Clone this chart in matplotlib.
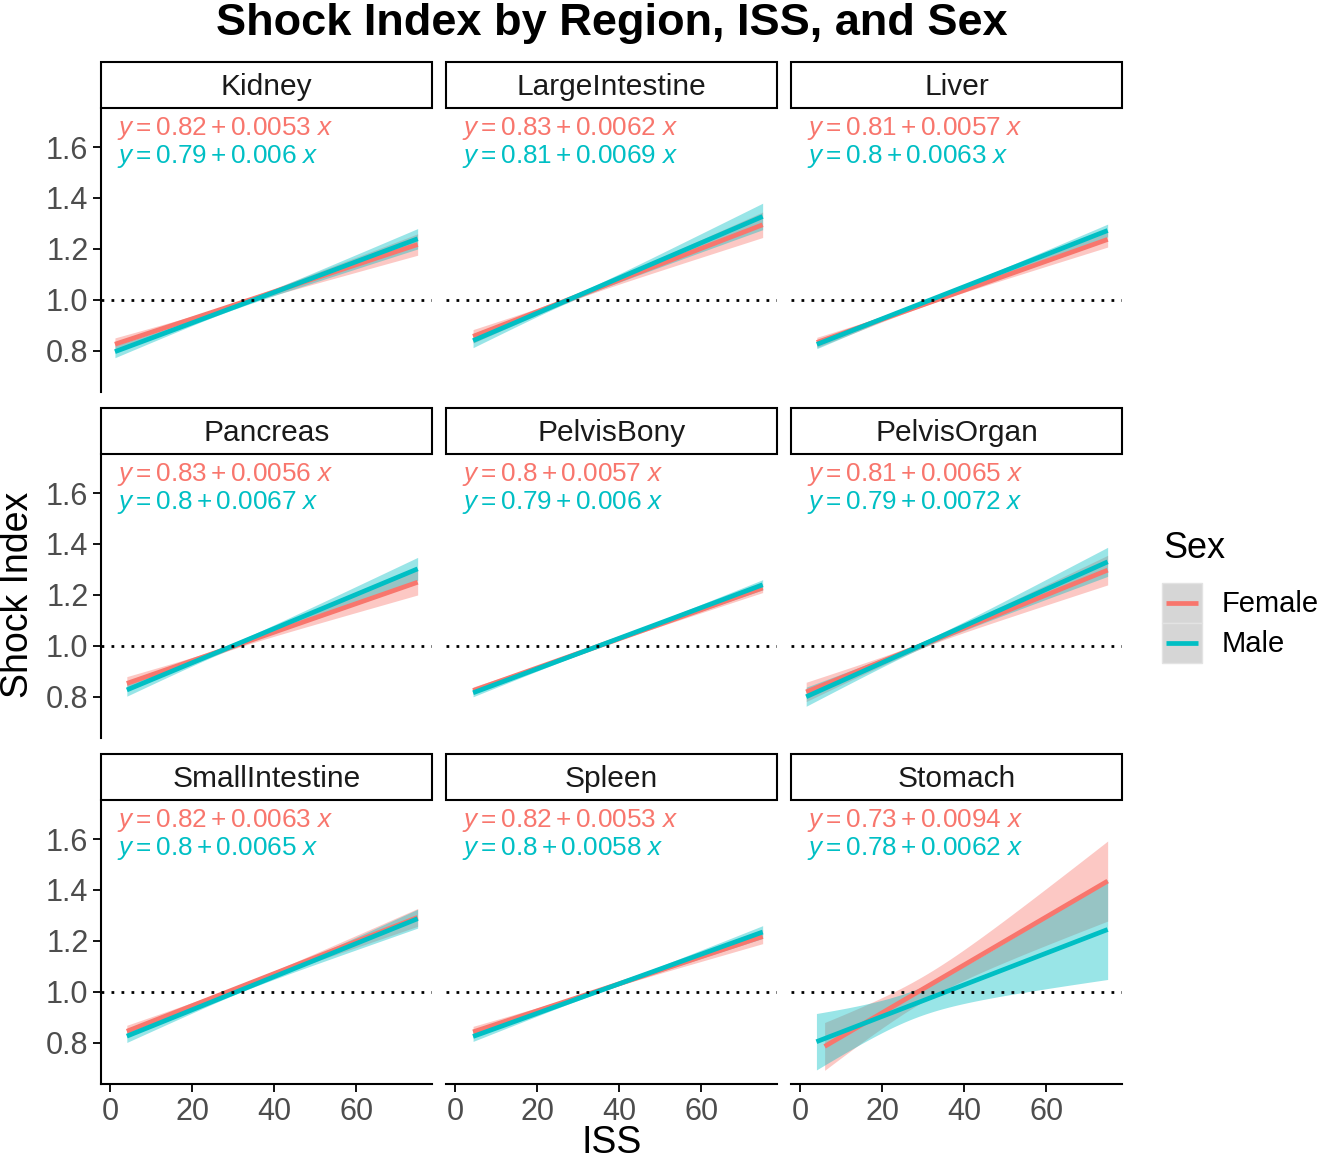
import numpy as np
import matplotlib
matplotlib.use('Agg')
import matplotlib.pyplot as plt
from matplotlib.patches import Rectangle

plt.rcParams['font.family'] = ['Liberation Sans', 'DejaVu Sans']
plt.rcParams['mathtext.fontset'] = 'custom'
plt.rcParams['mathtext.rm'] = 'Liberation Sans'
plt.rcParams['mathtext.it'] = 'Liberation Sans:italic'

# fitted lines per region (from the equations on the chart)
regions = ['Kidney', 'LargeIntestine', 'Liver', 'Pancreas', 'PelvisBony',
           'PelvisOrgan', 'SmallIntestine', 'Spleen', 'Stomach']
f_int = [0.82, 0.83, 0.81, 0.83, 0.8, 0.81, 0.82, 0.82, 0.73]
f_slope = [0.0053, 0.0062, 0.0057, 0.0056, 0.0057, 0.0065, 0.0063, 0.0053, 0.0094]
m_int = [0.79, 0.81, 0.8, 0.8, 0.79, 0.79, 0.8, 0.8, 0.78]
m_slope = [0.006, 0.0069, 0.0063, 0.0067, 0.006, 0.0072, 0.0065, 0.0058, 0.0062]

# ISS range covered by each fit
f_xmin = [1.2, 4.4, 4.1, 4.1, 4.4, 1.5, 4.1, 4.4, 6]
m_xmin = [1.2, 4.4, 4.1, 4.1, 4.4, 1.5, 4.1, 4.4, 4]
x_max = 75

# confidence band: narrowest point, half-width there, half-width at ISS 75
f_xc = [28, 28, 32, 28, 35, 30, 32, 35, 30]
m_xc = [28, 28, 32, 28, 35, 30, 32, 35, 28]
f_h0 = [0.008, 0.01, 0.006, 0.01, 0.005, 0.012, 0.008, 0.006, 0.05]
m_h0 = [0.008, 0.01, 0.006, 0.01, 0.005, 0.012, 0.008, 0.006, 0.055]
f_hend = [0.042, 0.05, 0.03, 0.05, 0.018, 0.058, 0.035, 0.028, 0.157]
m_hend = [0.04, 0.052, 0.025, 0.045, 0.02, 0.057, 0.037, 0.025, 0.196]

x_ticks = [0, 20, 40, 60]
y_ticks = [0.8, 1.0, 1.2, 1.4, 1.6]

red = '#F8766D'
cyan = '#00BFC4'

W, H = 1325, 1162
fig = plt.figure(figsize=(W / 100, H / 100), dpi=100)

ov = fig.add_axes([0, 0, 1, 1])
ov.set_xlim(0, W)
ov.set_ylim(H, 0)
ov.axis('off')

col_left = [101, 446, 791]
row_top = [108, 454, 800]
pw, ph = 331, 284
strip_h = 46


def pix_box(l, t, w, h):
    return [l / W, 1 - (t + h) / H, w / W, h / H]


def draw_fit(ax, a, b, xmin, xc, h0, hend, col):
    x = np.linspace(xmin, x_max, 100)
    y = a + b * x
    k2 = (hend ** 2 - h0 ** 2) / (x_max - xc) ** 2
    hw = np.sqrt(h0 ** 2 + k2 * (x - xc) ** 2)
    ax.fill_between(x, y - hw, y + hw, color=col, alpha=0.4, lw=0)
    ax.plot(x, y, color=col, lw=3.4, solid_capstyle='butt')


for i, reg in enumerate(regions):
    r, c = divmod(i, 3)
    l, t = col_left[c], row_top[r]
    ax = fig.add_axes(pix_box(l, t, pw, ph))
    ax.patch.set_alpha(0)

    draw_fit(ax, f_int[i], f_slope[i], f_xmin[i], f_xc[i], f_h0[i], f_hend[i], red)
    draw_fit(ax, m_int[i], m_slope[i], m_xmin[i], m_xc[i], m_h0[i], m_hend[i], cyan)
    ax.axhline(1.0, color='black', lw=2.0, ls=(0, (1, 2.6)), zorder=5)

    ax.set_xlim(-2.2, 78.5)
    ax.set_ylim(0.639, 1.753)
    ax.set_xticks(x_ticks)
    ax.set_yticks(y_ticks)
    ax.set_yticklabels(['%.1f' % v for v in y_ticks])
    for s in ax.spines.values():
        s.set_visible(False)
    ax.tick_params(labelsize=22, labelcolor='#4D4D4D', length=6, width=1.3, pad=3)
    if c == 0:
        ax.spines['left'].set_visible(True)
        ax.spines['left'].set_linewidth(1.5)
    else:
        ax.tick_params(axis='y', left=False, labelleft=False)
    if r == 2:
        ax.spines['bottom'].set_visible(True)
        ax.spines['bottom'].set_linewidth(1.5)
    else:
        ax.tick_params(axis='x', bottom=False, labelbottom=False)

    ax.text(0.048, 0.905, r'$y = %g + %g\ x$' % (f_int[i], f_slope[i]),
            transform=ax.transAxes, color=red, fontsize=18.8, va='baseline')
    ax.text(0.048, 0.806, r'$y = %g + %g\ x$' % (m_int[i], m_slope[i]),
            transform=ax.transAxes, color=cyan, fontsize=18.8, va='baseline')

    # facet strip
    ov.add_patch(Rectangle((l, t - strip_h), pw, strip_h, facecolor='white',
                           edgecolor='black', lw=1.5))
    ov.text(l + pw / 2, t - strip_h / 2 + 2, reg, ha='center', va='center',
            fontsize=21.5, color='#1A1A1A')

ov.text(612, 23, 'Shock Index by Region, ISS, and Sex', ha='center', va='center',
        fontsize=32.5, fontweight='bold')
ov.text(18, 595, 'Shock Index', rotation=90, ha='center', va='center', fontsize=27)
ov.text(612, 1143, 'ISS', ha='center', va='center', fontsize=27)

# legend
ov.text(1163, 548, 'Sex', ha='left', va='center', fontsize=26)
for j, (lab, col) in enumerate([('Female', red), ('Male', cyan)]):
    ky = 583 + 40 * j
    ov.add_patch(Rectangle((1162, ky), 40, 40, facecolor='#D6D6D6',
                           edgecolor='#E3E3E3', lw=1))
    ov.plot([1166, 1198], [ky + 20, ky + 20], color=col, lw=3.4,
            solid_capstyle='butt')
    ov.text(1222, ky + 21, lab, ha='left', va='center', fontsize=21)

fig.savefig('out.png', dpi=100)
